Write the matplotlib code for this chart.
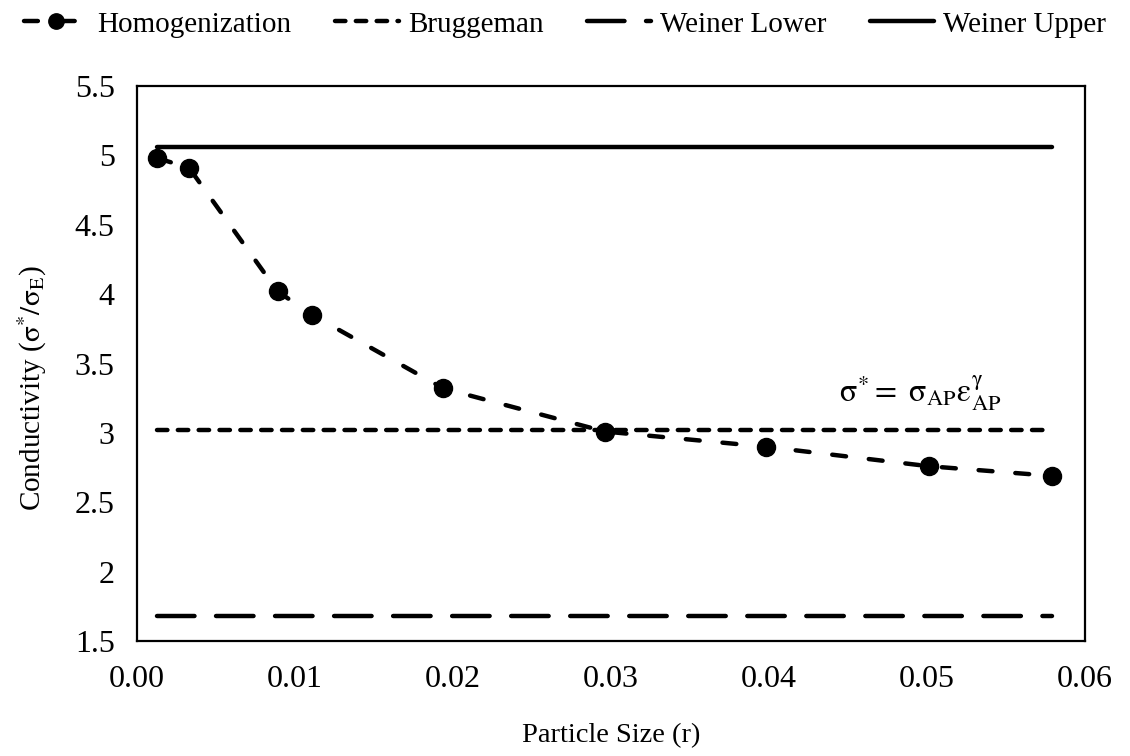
import matplotlib
matplotlib.use("Agg")
import matplotlib.pyplot as plt
from matplotlib.ticker import FormatStrFormatter

plt.rcParams['font.family'] = ['Liberation Serif', 'DejaVu Serif']
plt.rcParams['mathtext.fontset'] = 'stix'
plt.rcParams['lines.scale_dashes'] = False

# particle size r and effective conductivity from the homogenization runs
particle_size = [0.0013, 0.0033, 0.0089, 0.0111, 0.0194, 0.0296, 0.0398, 0.0501, 0.0579]
homogenization = [4.98, 4.91, 4.02, 3.85, 3.32, 3.01, 2.90, 2.76, 2.69]

# analytical estimates, constant in r
bruggeman = 3.02
weiner_lower = 1.68
weiner_upper = 5.06

x_ticks = [0.00, 0.01, 0.02, 0.03, 0.04, 0.05, 0.06]
y_ticks = [1.5, 2, 2.5, 3, 3.5, 4, 4.5, 5, 5.5]

fig = plt.figure(figsize=(11.3, 7.56), dpi=100)
ax = fig.add_axes([0.1212, 0.1521, 0.8390, 0.7341])

n = len(particle_size)
ax.plot(particle_size, [bruggeman] * n, color='black', lw=3.2,
        dashes=(7.5, 7.5), dash_capstyle='round', label='Bruggeman')
ax.plot(particle_size, [weiner_lower] * n, color='black', lw=3.2,
        dashes=(27, 15.5), dash_capstyle='round', label='Weiner Lower')
ax.plot(particle_size, [weiner_upper] * n, color='black', lw=3.2,
        solid_capstyle='round', label='Weiner Upper')
ax.plot(particle_size, homogenization, color='black', lw=3.2,
        dashes=(10, 16.5), dash_capstyle='round',
        marker='o', markersize=13, label='Homogenization')

ax.set_xlim(0, 0.06)
ax.set_ylim(1.5, 5.5)
ax.set_xticks(x_ticks)
ax.set_yticks(y_ticks)
ax.xaxis.set_major_formatter(FormatStrFormatter('%.2f'))
ax.yaxis.set_major_formatter(FormatStrFormatter('%g'))
ax.tick_params(length=0, labelsize=23, colors='black')
ax.tick_params(axis='x', pad=17)
ax.tick_params(axis='y', pad=16)
for s in ax.spines.values():
    s.set_linewidth(1.6)
    s.set_color('black')

ax.set_xlabel('Particle Size (r)', fontsize=20.5)
ax.xaxis.set_label_coords(0.5, -0.148)
ax.set_ylabel(r'Conductivity ($\mathrm{σ}^{*}/\mathrm{σ}_{\mathrm{E}}$)', fontsize=21)
ax.yaxis.set_label_coords(-0.093, 0.456)

ax.text(0.0496, 3.29, r'$\mathrm{σ}^{*} =\ \mathrm{σ}_{\mathrm{AP}}\mathrm{ε}_{\mathrm{AP}}^{\mathrm{γ}}$',
        fontsize=23, ha='center', va='center')

handles, labels = ax.get_legend_handles_labels()
order = [3, 0, 1, 2]
fig.legend([handles[i] for i in order], [labels[i] for i in order],
           loc='upper center', bbox_to_anchor=(0.5, 1.02), ncol=4, frameon=False,
           fontsize=21, handlelength=2.2, handletextpad=0.3, columnspacing=1.5,
           markerscale=0.85)

fig.savefig('out.png', dpi=100)
